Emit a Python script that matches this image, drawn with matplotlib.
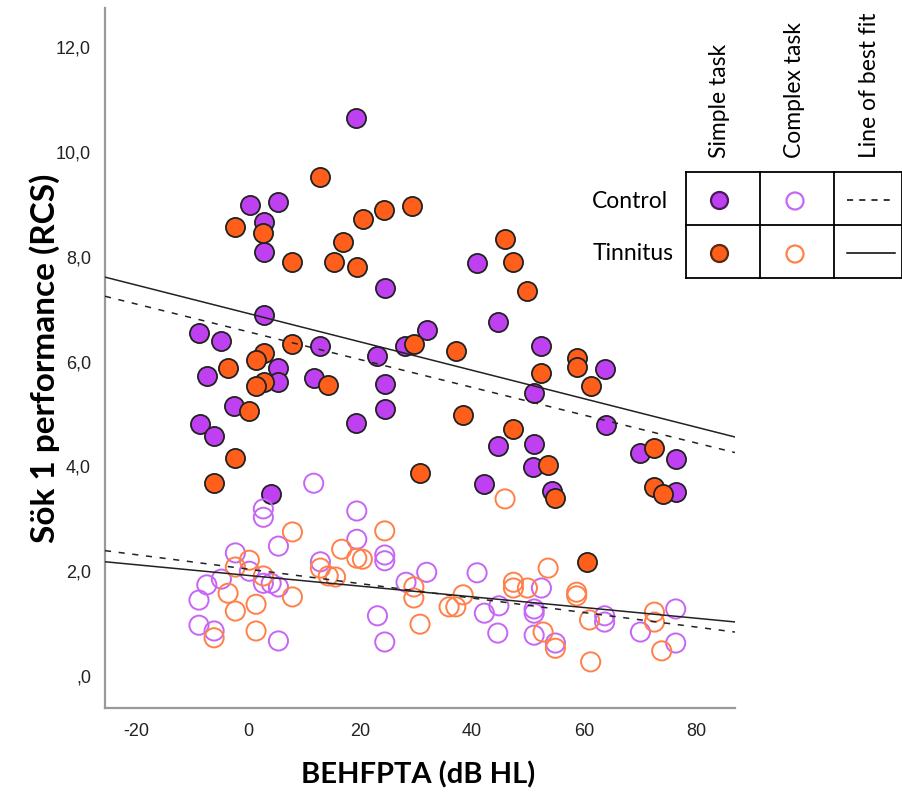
import matplotlib
matplotlib.use("Agg")
import matplotlib.pyplot as plt
import numpy as np

plt.rcParams["axes.unicode_minus"] = False

# ---- data ----
ctrl_simple_x = [19.2, 0.4, 5.4, 2.9, 2.9, 24.4, 40.9, 2.9, -8.8, -4.8, 12.9, 31.9, 28.0,
                 44.6, 23.0, 52.4, 63.7, -7.4, 5.4, 5.4, 11.8, 24.4, 51.1, -2.5, 24.4,
                 -8.6, -6.1, 19.2, 63.9, 51.1, 44.6, 70.1, 76.4, 50.9, 42.2, 54.3, 76.4, 4.1]
ctrl_simple_y = [10.65, 8.99, 9.05, 8.66, 8.09, 7.40, 7.88, 6.89, 6.55, 6.39, 6.30, 6.60, 6.30,
                 6.76, 6.11, 6.30, 5.86, 5.73, 5.88, 5.61, 5.69, 5.57, 5.40, 5.15, 5.10,
                 4.81, 4.58, 4.83, 4.79, 4.43, 4.39, 4.26, 4.14, 3.99, 3.66, 3.53, 3.51, 3.47]

tinn_simple_x = [29.2, 45.9, 47.4, 49.9, 29.6, 37.1, 52.4, 58.7, 58.7, 61.2, 38.4, 47.4,
                 53.6, 30.7, 72.6, 72.6, 74.1, 54.9, 12.9, 24.2, -2.3, 2.7, 20.6, 16.9,
                 7.9, 15.4, 19.4, 7.9, 2.9, 1.4, -3.6, 2.9, 1.4, 14.3, 0.2, -2.3, -6.1, 60.5]
tinn_simple_y = [8.97, 8.34, 7.90, 7.35, 6.34, 6.20, 5.78, 6.07, 5.90, 5.53, 4.98, 4.71,
                 4.03, 3.87, 4.35, 3.61, 3.47, 3.40, 9.52, 8.89, 8.57, 8.46, 8.72, 8.28,
                 7.90, 7.90, 7.80, 6.34, 6.16, 6.03, 5.88, 5.61, 5.53, 5.55, 5.06, 4.16, 3.68, 2.17]

ctrl_complex_x = [11.7, 2.7, 2.7, 19.4, 19.4, 5.4, -2.3, 12.9, 24.4, 24.4, 0.2, 31.9, -4.8,
                  -7.4, 2.7, 4.1, 5.4, 28.2, -8.8, 23.1, -8.8, -6.1, 5.4, 24.4, 40.9, 52.4,
                  44.8, 42.2, 51.1, 51.1, 63.7, 63.7, 76.4, 44.6, 51.1, 54.9, 70.1, 76.4]
ctrl_complex_y = [3.68, 3.19, 3.03, 3.15, 2.61, 2.48, 2.35, 2.18, 2.31, 2.20, 2.00, 1.98, 1.85,
                  1.74, 1.77, 1.77, 1.70, 1.79, 1.45, 1.15, 0.97, 0.86, 0.67, 0.65, 1.97, 1.68,
                  1.34, 1.20, 1.28, 1.20, 1.15, 1.03, 1.28, 0.82, 0.78, 0.63, 0.84, 0.63]

tinn_complex_x = [7.9, 24.4, 16.7, 19.4, 20.4, 0.2, -2.3, 12.9, 14.3, 15.6, 2.7, 29.6, -3.6,
                  7.9, 29.6, 1.4, -2.3, 35.9, 30.7, 1.4, -6.1, 45.9, 53.6, 47.4, 47.4, 49.9,
                  58.7, 58.7, 38.4, 37.1, 72.6, 72.6, 61.0, 52.7, 54.9, 73.9, 61.2]
tinn_complex_y = [2.75, 2.77, 2.42, 2.25, 2.23, 2.21, 2.08, 2.06, 1.91, 1.89, 1.91, 1.70, 1.58,
                  1.51, 1.49, 1.37, 1.24, 1.32, 0.99, 0.86, 0.73, 3.38, 2.06, 1.79, 1.68, 1.68,
                  1.60, 1.53, 1.55, 1.32, 1.22, 1.03, 1.07, 0.84, 0.53, 0.48, 0.27]

# fit lines (intercept, slope) as drawn in the reference
fit_ctrl_simple = (6.57, -0.0265)
fit_tinn_simple = (6.92, -0.0271)
fit_ctrl_complex = (2.04, -0.0138)
fit_tinn_complex = (1.92, -0.0102)

x_ticks = [-20, 0, 20, 40, 60, 80]
y_ticks = [0, 2, 4, 6, 8, 10, 12]
y_tick_labels = [",0", "2,0", "4,0", "6,0", "8,0", "10,0", "12,0"]

PURPLE = "#BF40F0"
ORANGE = "#FF5F1A"
PURPLE_OPEN = "#C766F5"
ORANGE_OPEN = "#FF8048"

W, H = 903, 793
fig = plt.figure(figsize=(W / 100, H / 100), dpi=100)
ax = fig.add_axes([105 / W, 1 - 708 / H, 630 / W, 700 / H])
xlim = (-25.6, 87.0)
ax.set_xlim(*xlim)
ax.set_ylim(-0.61, 12.75)

ms = 190
ax.scatter(ctrl_simple_x, ctrl_simple_y, s=ms, c=PURPLE, edgecolors="#222222", linewidths=1.3, zorder=3)
ax.scatter(tinn_simple_x, tinn_simple_y, s=ms, c=ORANGE, edgecolors="#222222", linewidths=1.3, zorder=3)
ax.scatter(ctrl_complex_x, ctrl_complex_y, s=ms, facecolors="none", edgecolors=PURPLE_OPEN, linewidths=1.4, zorder=4)
ax.scatter(tinn_complex_x, tinn_complex_y, s=ms, facecolors="none", edgecolors=ORANGE_OPEN, linewidths=1.4, zorder=4)

xs = np.array(xlim)
for (b0, b1), ls in [(fit_ctrl_simple, (0, (4, 5))), (fit_tinn_simple, "-"),
                     (fit_ctrl_complex, (0, (4, 5))), (fit_tinn_complex, "-")]:
    ax.plot(xs, b0 + b1 * xs, color="#222222", lw=1.1, ls=ls, zorder=5)

for side in ["top", "right"]:
    ax.spines[side].set_visible(False)
for side in ["left", "bottom"]:
    ax.spines[side].set_color("#999999")
    ax.spines[side].set_linewidth(1.6)
ax.set_xticks(x_ticks)
ax.set_yticks(y_ticks)
ax.set_yticklabels(y_tick_labels)
ax.tick_params(length=0, pad=10, labelsize=13, labelcolor="#222222")
for lab in ax.get_xticklabels() + ax.get_yticklabels():
    lab.set_family("Liberation Sans")
ax.tick_params(axis="x", pad=11)

fig.text(418 / W, 1 - 775 / H, "BEHFPTA (dB HL)", ha="center", va="center",
         fontsize=21, fontweight="bold", family="Lato")
fig.text(45 / W, 1 - 358 / H, "Sök 1 performance (RCS)", ha="center", va="center",
         rotation=90, fontsize=24, fontweight="bold", family="Lato")

# ---- legend table drawn in pixel coordinates ----
lax = fig.add_axes([0, 0, 1, 1], facecolor="none")
lax.set_xlim(0, W)
lax.set_ylim(H, 0)
lax.axis("off")
tx0, tx1 = 686, 902
for yy in [172, 225, 278]:
    lax.plot([tx0, tx1], [yy, yy], color="black", lw=1.3)
for xx in [686, 760, 834, 902]:
    lax.plot([xx, xx], [172, 278], color="black", lw=1.3)

for label, xx in [("Simple task", 720), ("Complex task", 795), ("Line of best fit", 870)]:
    lax.text(xx, 158, label, rotation=90, ha="center", va="bottom", fontsize=16.5, family="Lato")
lax.text(630, 201, "Control", ha="center", va="center", fontsize=16.5, family="Lato")
lax.text(633, 254, "Tinnitus", ha="center", va="center", fontsize=16.5, family="Lato")

lax.scatter([719], [200], s=150, c=PURPLE, edgecolors="#4a1a5a", linewidths=1.6)
lax.scatter([719], [253], s=150, c=ORANGE, edgecolors="#5a2a10", linewidths=1.6)
lax.scatter([795], [201], s=150, facecolors="none", edgecolors=PURPLE_OPEN, linewidths=1.6)
lax.scatter([795], [254], s=150, facecolors="none", edgecolors=ORANGE_OPEN, linewidths=1.6)
lax.plot([847, 895], [200, 200], color="black", lw=1.1, ls=(0, (4, 4)))
lax.plot([847, 895], [253, 253], color="black", lw=1.1)

fig.savefig("out.png", dpi=100)
